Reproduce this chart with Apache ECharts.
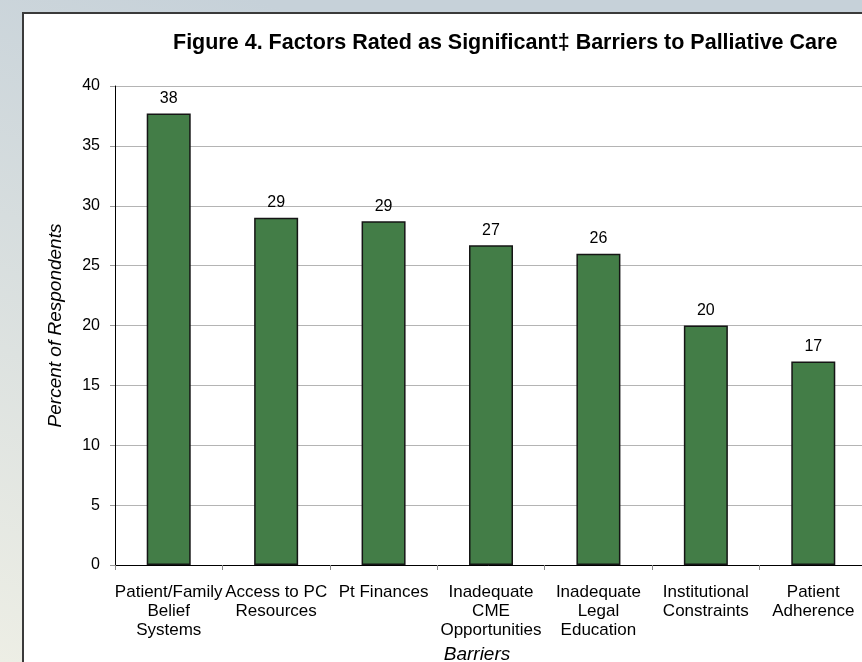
<!DOCTYPE html>
<html>
<head>
  <meta charset="utf-8">
  <script src="https://cdn.jsdelivr.net/npm/echarts@6/dist/echarts.min.js"></script>
</head>
<body style="margin: 0; width: 862px; height: 662px">
  <div id="container" style="width: 862px; height: 662px"></div>
  <script type="text/javascript">
    var barriers = [
      'Patient/Family\nBelief\nSystems',
      'Access to PC\nResources',
      'Pt Finances',
      'Inadequate\nCME\nOpportunities',
      'Inadequate\nLegal\nEducation',
      'Institutional\nConstraints',
      'Patient\nAdherence'
    ];
    var percentRespondents = [37.7, 29.0, 28.7, 26.7, 26.0, 20.0, 17.0];

    var font = '"Liberation Sans", Arial, sans-serif';
    var myChart = echarts.init(document.getElementById('container'), null, { renderer: 'canvas' });

    var option = {
      backgroundColor: new echarts.graphic.LinearGradient(0.3, 0, 0, 1, [
        { offset: 0, color: '#c6d1d9' },
        { offset: 1, color: '#edeee5' }
      ]),
      graphic: [{
        type: 'rect',
        z: -10,
        shape: { x: 23, y: 13, width: 860, height: 670 },
        style: { fill: '#ffffff', stroke: '#3a3a3a', lineWidth: 2 }
      }],
      title: {
        text: 'Figure 4. Factors Rated as Significant\u2021 Barriers to Palliative Care',
        left: 173,
        top: 32,
        padding: 0,
        textStyle: { fontFamily: font, fontSize: 21.5, fontWeight: 'bold', color: '#000' }
      },
      grid: { left: 115, top: 86, width: 752, bottom: 97, outerBoundsMode: 'none' },
      xAxis: {
        type: 'category',
        data: barriers,
        name: 'Barriers',
        nameLocation: 'middle',
        nameGap: 74,
        nameTextStyle: {
          fontFamily: font, fontSize: 19, fontStyle: 'italic', color: '#000',
          verticalAlign: 'top', padding: [0, 28, 0, 0]
        },
        axisLine: { lineStyle: { color: '#000', width: 1 } },
        axisTick: { show: true, length: 5, interval: 0, lineStyle: { color: '#888' } },
        axisLabel: { interval: 0, fontFamily: font, fontSize: 17, color: '#000', lineHeight: 19, margin: 18 }
      },
      yAxis: {
        type: 'value',
        min: 0,
        max: 40,
        interval: 5,
        name: 'Percent of Respondents',
        nameLocation: 'middle',
        nameRotate: 90,
        nameGap: 50,
        nameTextStyle: { fontFamily: font, fontSize: 19, fontStyle: 'italic', color: '#000' },
        axisLine: { show: true, lineStyle: { color: '#000', width: 1 } },
        axisTick: { show: true, length: 5, lineStyle: { color: '#999' } },
        axisLabel: { fontFamily: font, fontSize: 16, color: '#000', margin: 15 },
        splitLine: { lineStyle: { color: '#b4b4b4', width: 1 } }
      },
      series: [{
        type: 'bar',
        data: percentRespondents,
        barWidth: 44,
        itemStyle: { color: '#437d47', borderColor: '#151515', borderWidth: 1.5 },
        label: {
          show: true,
          position: 'top',
          distance: 7,
          fontFamily: font,
          fontSize: 16,
          color: '#000',
          formatter: function (p) { return Math.round(p.value); }
        }
      }]
    };

    myChart.setOption(option);
  </script>
</body>
</html>
